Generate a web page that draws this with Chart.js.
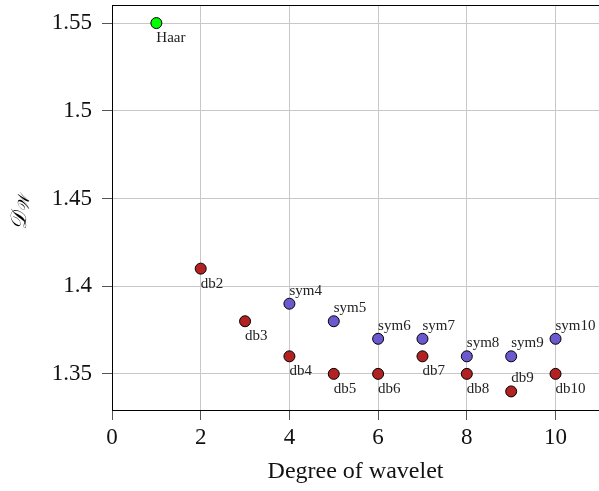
<!DOCTYPE html>
<html>
<head>
<meta charset="utf-8">
<script src="https://cdn.jsdelivr.net/npm/chart.js@4.4.1/dist/chart.umd.min.js"></script>
<style>
  html, body { margin: 0; padding: 0; background: #fff; overflow: hidden; }
  #wrap { width: 599px; height: 491px; }
</style>
</head>
<body>
<div id="wrap"><canvas id="myChart" width="599" height="491"></canvas></div>
<script>
// wavelet degree vs D_W
const haarX = [1];
const haarY = [1.55];
const haarLabels = ['Haar'];

const dbX = [2, 3, 4, 5, 6, 7, 8, 9, 10];
const dbY = [1.41, 1.38, 1.36, 1.35, 1.35, 1.36, 1.35, 1.34, 1.35];
const dbLabels = ['db2', 'db3', 'db4', 'db5', 'db6', 'db7', 'db8', 'db9', 'db10'];

const symX = [4, 5, 6, 7, 8, 9, 10];
const symY = [1.39, 1.38, 1.37, 1.37, 1.36, 1.36, 1.37];
const symLabels = ['sym4', 'sym5', 'sym6', 'sym7', 'sym8', 'sym9', 'sym10'];

const xTicks = [0, 2, 4, 6, 8, 10];
const yTicks = [1.35, 1.4, 1.45, 1.5, 1.55];

const serif = '"Liberation Serif", "Times New Roman", serif';

const toPoints = (xs, ys) => xs.map((x, i) => ({x: x, y: ys[i]}));

// point labels: below the marker, or above for the ones listed
const pointLabels = {
    id: 'pointLabels',
    afterDatasetsDraw(chart) {
        const ctx = chart.ctx;
        ctx.save();
        ctx.font = '15px ' + serif;
        ctx.fillStyle = '#222';
        ctx.textAlign = 'left';
        ctx.textBaseline = 'middle';
        chart.data.datasets.forEach((ds, di) => {
            const meta = chart.getDatasetMeta(di);
            meta.data.forEach((pt, i) => {
                const txt = ds.pointNames[i];
                const up = ds.labelsAbove || (ds.aboveNames || []).includes(txt);
                ctx.fillText(txt, pt.x, up ? pt.y - 13 : pt.y + 15);
            });
        });
        ctx.restore();
    }
};

// top spine and y axis title with subscript
const extras = {
    id: 'extras',
    afterDraw(chart) {
        const ctx = chart.ctx;
        const a = chart.chartArea;
        ctx.save();
        ctx.strokeStyle = '#000';
        ctx.lineWidth = 1;
        ctx.beginPath();
        ctx.moveTo(a.left, a.top + 0.5);
        ctx.lineTo(a.right, a.top + 0.5);
        ctx.stroke();

        ctx.translate(26, 230);
        ctx.rotate(-Math.PI / 2);
        ctx.fillStyle = '#000';
        ctx.textBaseline = 'alphabetic';
        ctx.font = 'italic 22px "DejaVu Serif", serif';
        ctx.fillText('\u{1D49F}', 0, 0);
        const w = ctx.measureText('\u{1D49F}').width;
        ctx.font = 'italic 16px "DejaVu Serif", serif';
        ctx.fillText('\u{1D4B2}', w, 3);
        ctx.restore();
    }
};

const ctx = document.getElementById('myChart').getContext('2d');
const chart = new Chart(ctx, {
    type: 'scatter',
    data: {
        datasets: [{
            label: 'Haar',
            data: toPoints(haarX, haarY),
            pointNames: haarLabels,
            backgroundColor: '#00ff00',
            borderColor: '#000',
            borderWidth: 1,
            pointRadius: 5.5
        },
        {
            label: 'db',
            data: toPoints(dbX, dbY),
            pointNames: dbLabels,
            aboveNames: ['db9'],
            backgroundColor: '#b22222',
            borderColor: '#000',
            borderWidth: 1,
            pointRadius: 5.5
        },
        {
            label: 'sym',
            data: toPoints(symX, symY),
            pointNames: symLabels,
            labelsAbove: true,
            backgroundColor: '#6a5acd',
            borderColor: '#000',
            borderWidth: 1,
            pointRadius: 5.5
        }]
    },
    options: {
        responsive: false,
        animation: false,
        layout: {autoPadding: false, padding: {top: 5, right: 0, bottom: 0, left: 0}},
        plugins: {
            legend: {display: false},
            tooltip: {enabled: false}
        },
        scales: {
            x: {
                type: 'linear',
                min: 0,
                max: 10.98,
                afterFit: (s) => {
                    s.height = 81;
                    s.paddingLeft = 0;
                    s.paddingRight = 0;
                },
                afterBuildTicks: (s) => { s.ticks = xTicks.map(v => ({value: v})); },
                grid: {color: '#c8c8c8', lineWidth: 1, tickLength: 10, tickColor: '#555'},
                border: {color: '#000', width: 1},
                ticks: {
                    color: '#111',
                    padding: 4,
                    maxRotation: 0,
                    font: {family: serif, size: 23},
                    callback: (v) => String(v)
                },
                title: {
                    display: true,
                    text: 'Degree of wavelet',
                    color: '#111',
                    font: {family: serif, size: 24},
                    padding: {top: 0, bottom: 5}
                }
            },
            y: {
                type: 'linear',
                min: 1.3294,
                max: 1.5603,
                afterFit: (s) => {
                    s.width = 112;
                    s.paddingTop = 0;
                    s.paddingBottom = 0;
                },
                afterBuildTicks: (s) => { s.ticks = yTicks.map(v => ({value: v})); },
                grid: {color: '#c8c8c8', lineWidth: 1, tickLength: 10, tickColor: '#555'},
                border: {color: '#000', width: 1},
                ticks: {
                    color: '#111',
                    padding: 10,
                    font: {family: serif, size: 23},
                    callback: (v) => String(v)
                }
            }
        }
    },
    plugins: [pointLabels, extras]
});
</script>
</body>
</html>
